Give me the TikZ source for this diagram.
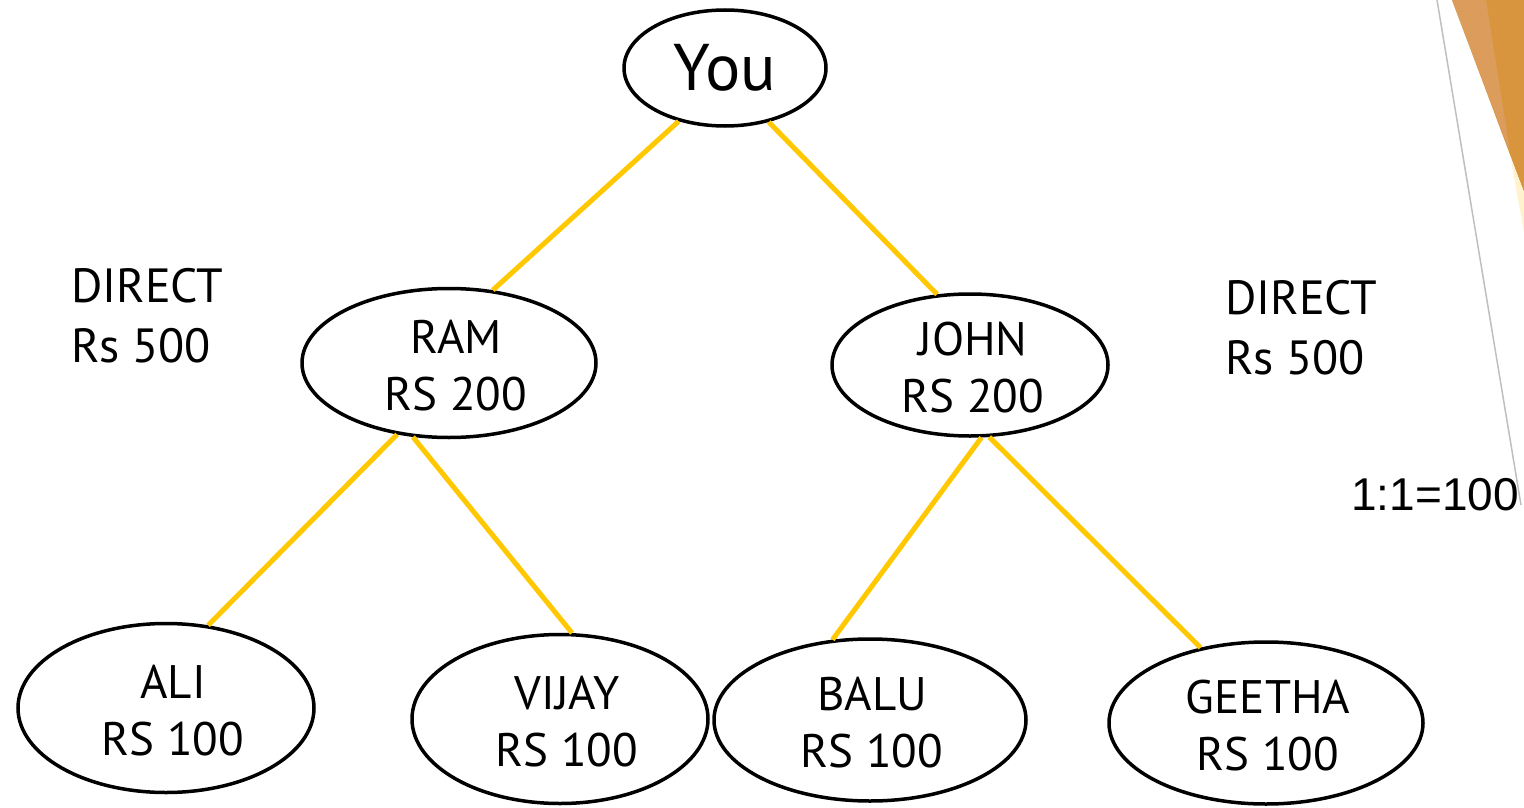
\documentclass[tikz,border=0pt]{standalone}
\usepackage{fontspec}
\setmainfont{PT Sans}
\newfontfamily\arialf{Liberation Sans}
\usetikzlibrary{shapes.geometric}
\definecolor{linky}{HTML}{FFC800}
\definecolor{orA}{HTML}{D8953D}
\definecolor{orB}{HTML}{DC9D5C}
\definecolor{paley}{HTML}{FFF2CC}
\begin{document}
\begin{tikzpicture}[x=1pt,y=-1pt,
  person/.style 2 args={ellipse, draw=black, line width=3.5pt, inner sep=0pt,
     minimum width=#1, minimum height=#2},
  ptext/.style={inner sep=0pt, align=center, xshift=7pt, yshift=-3pt,
     font=\fontsize{47}{57}\selectfont},
  link/.style={draw=linky, line width=5pt},
  side/.style={anchor=north west, inner sep=0pt, align=left,
     font=\fontsize{48}{60}\selectfont}]
\useasboundingbox (0,0) rectangle (1524,808);
% slide decoration
\fill[orA] (1452,0) -- (1524,0) -- (1524,192) -- cycle;
\fill[orB] (1452,0) -- (1486,0) -- (1510,152) -- cycle;
\fill[paley] (1511,160) -- (1524,192) -- (1524,232) -- cycle;
\draw[gray!50, line width=1.5pt] (1437,0) -- (1521,505);
% nodes
\node[person={202pt}{116pt}, font=\fontsize{66}{70}\selectfont] (you) at (725,68) {You};
\node[person={294pt}{149pt}] (ram) at (449,363) {};
\node[person={276pt}{142pt}] (john) at (970,365) {};
\node[person={296pt}{169pt}] (ali) at (166,708) {};
\node[person={296pt}{169pt}] (vijay) at (560,719) {};
\node[person={312pt}{162pt}] (balu) at (870,720) {};
\node[person={314pt}{162pt}] (geetha) at (1266,723) {};
\node[ptext] (ramt) at (ram) {RAM\\RS 200};
\node[ptext, xshift=-4pt] (johnt) at (john) {JOHN\\RS 200};
\node[ptext] (alit) at (ali) {ALI\\RS 100};
\node[ptext] (vijayt) at (vijay) {VIJAY\\RS 100};
\node[ptext, xshift=-5pt] (balut) at (balu) {BALU\\RS 100};
\node[ptext, xshift=-5pt] (geethat) at (geetha) {GEETHA\\RS 100};
\node[side] (dl) at (71,268) {DIRECT\\Rs 500};
\node[side] (dr) at (1225,280) {DIRECT\\Rs 500};
\node[anchor=north west, inner sep=0pt, font=\arialf\fontsize{46}{50}\selectfont] (ratio) at (1351,478) {1:1=100};
% connectors
\draw[link] (you.229) -- (ram.59);
\draw[link] (you.309) -- (john.115);
\draw[link] (ram.234) -- (ali.63);
\draw[link] (ram.244) -- (vijay.82);
\draw[link] (john.279) -- (balu.115);
\draw[link] (john.285) -- (geetha.131);
\end{tikzpicture}
\end{document}
